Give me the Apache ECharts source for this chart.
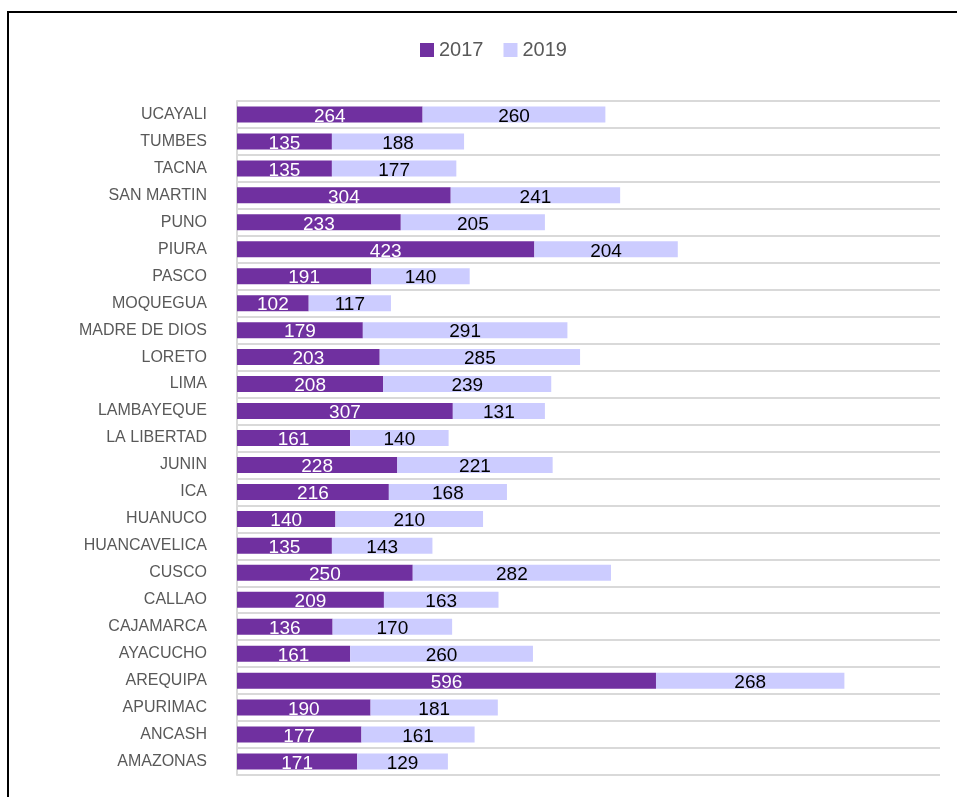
<!DOCTYPE html>
<html>
<head>
<meta charset="utf-8">
<script src="https://cdn.jsdelivr.net/npm/echarts@6/dist/echarts.min.js"></script>
<style>
html,body{margin:0;padding:0;background:#fff;}
#c{width:957px;height:797px;}
</style>
</head>
<body>
<div id="c"></div>
<script>
const categories = ["AMAZONAS","ANCASH","APURIMAC","AREQUIPA","AYACUCHO","CAJAMARCA","CALLAO","CUSCO","HUANCAVELICA","HUANUCO","ICA","JUNIN","LA LIBERTAD","LAMBAYEQUE","LIMA","LORETO","MADRE DE DIOS","MOQUEGUA","PASCO","PIURA","PUNO","SAN MARTIN","TACNA","TUMBES","UCAYALI"];
const values2017 = [171,177,190,596,161,136,209,250,135,140,216,228,161,307,208,203,179,102,191,423,233,304,135,135,264];
const values2019 = [129,161,181,268,260,170,163,282,143,210,168,221,140,131,239,285,291,117,140,204,205,241,177,188,260];
const seriesNames = ["2017","2019"];

const chart = echarts.init(document.getElementById('c'));
const labelFont = "'Liberation Sans', Arial, sans-serif";
chart.setOption({
  animation: false,
  backgroundColor: '#fff',
  graphic: [{
    type: 'rect',
    shape: {x: 8, y: 12, width: 1200, height: 1000},
    style: {fill: 'none', stroke: '#000', lineWidth: 2},
    silent: true
  }],
  legend: {
    top: 35,
    left: 415,
    itemWidth: 14,
    itemHeight: 14,
    itemGap: 20,
    icon: 'rect',
    textStyle: {color: '#595959', fontSize: 20, fontFamily: labelFont},
    data: seriesNames
  },
  grid: {left: 237, right: 17, top: 101, bottom: 22, containLabel: false},
  xAxis: {
    type: 'value', min: 0, max: 1000,
    show: false,
    splitLine: {show: false}
  },
  yAxis: {
    type: 'category',
    data: categories,
    axisLine: {show: true, lineStyle: {color: '#D9D9D9', width: 2}},
    axisTick: {show: false},
    axisLabel: {color: '#595959', fontSize: 16, margin: 30, fontFamily: labelFont},
    splitLine: {show: true, lineStyle: {color: '#D9D9D9', width: 2}}
  },
  series: [
    {
      name: seriesNames[0], type: 'bar', stack: 'total', barWidth: 16,
      itemStyle: {color: '#7030A0'},
      label: {show: true, position: 'inside', offset: [0, 2], color: '#fff', fontSize: 19, fontFamily: labelFont},
      data: values2017
    },
    {
      name: seriesNames[1], type: 'bar', stack: 'total', barWidth: 16,
      itemStyle: {color: '#CCCCFF'},
      label: {show: true, position: 'inside', offset: [0, 2], color: '#000', fontSize: 19, fontFamily: labelFont},
      data: values2019
    }
  ]
});
</script>
</body>
</html>
